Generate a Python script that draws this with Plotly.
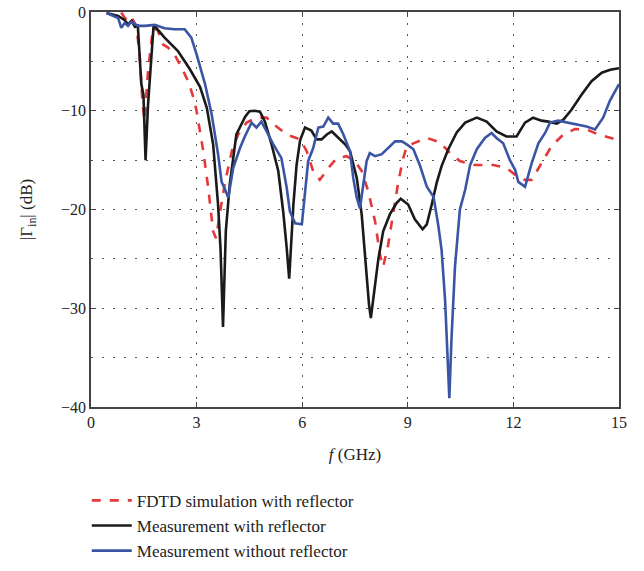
import plotly.graph_objects as go

# FDTD simulation with reflector
f_sim = [0.86, 0.96, 1.05, 1.14, 1.29, 1.38, 1.46, 1.52, 1.62, 1.76, 1.9, 2.05, 2.19, 2.37, 2.57, 2.76,
         2.94, 3.0, 3.19, 3.33, 3.47, 3.55, 3.67, 3.81, 4.0, 4.18, 4.42, 4.7, 4.99, 5.27, 5.56, 5.94,
         6.13, 6.31, 6.5, 6.74, 6.98, 7.26, 7.5, 7.69, 7.88, 8.07, 8.21, 8.3, 8.44, 8.59, 8.73, 8.87,
         8.97, 9.16, 9.54, 9.92, 10.2, 10.48, 10.86, 11.43, 11.81, 12.09, 12.33, 12.52, 12.8, 13.08,
         13.42, 13.75, 14.08, 14.41, 15.0]
db_sim = [-0.05, -0.6, -0.9, -0.5, -1.4, -4.3, -9.0, -11.0, -6.0, -1.6, -1.9, -3.3, -3.6, -4.3, -5.6, -7.0,
          -9.0, -10.05, -14.1, -17.8, -22.2, -22.9, -20.2, -17.2, -14.1, -12.4, -11.2, -10.7, -10.7, -11.6,
          -12.4, -12.9, -14.1, -16.1, -17.0, -15.8, -14.8, -14.6, -15.1, -16.1, -18.2, -21.2, -24.6, -25.8,
          -23.6, -20.2, -17.2, -14.8, -13.6, -13.3, -12.75, -13.2, -14.3, -15.1, -15.5, -15.5, -15.8, -16.6,
          -17.0, -17.0, -15.3, -13.6, -12.4, -11.85, -11.9, -12.4, -13.0]

# Measurement with reflector
f_ref = [0.44, 0.77, 0.95, 1.05, 1.15, 1.25, 1.33, 1.43, 1.49, 1.55, 1.62, 1.71, 1.78, 2.09, 2.47, 2.81,
         3.1, 3.29, 3.47, 3.61, 3.68, 3.75, 3.83, 3.94, 4.13, 4.38, 4.5, 4.65, 4.8, 4.94, 5.13, 5.32,
         5.46, 5.56, 5.63, 5.75, 5.84, 5.94, 6.08, 6.26, 6.41, 6.55, 6.7, 6.84, 6.98, 7.22, 7.36, 7.55,
         7.69, 7.8, 7.9, 7.95, 8.07, 8.16, 8.3, 8.49, 8.68, 8.8, 9.01, 9.2, 9.42, 9.54, 9.68, 9.82,
         9.96, 10.15, 10.39, 10.63, 10.96, 11.24, 11.52, 11.8, 12.09, 12.33, 12.56, 12.8, 12.99, 13.23,
         13.42, 13.65, 13.94, 14.22, 14.51, 14.75, 15.0]
db_ref = [-0.1, -0.4, -0.8, -1.25, -0.9, -1.5, -1.4, -7.3, -8.4, -15.0, -9.4, -4.3, -1.3, -2.6, -3.96, -5.8,
          -7.6, -9.7, -13.4, -19.5, -24.0, -31.9, -22.2, -17.5, -12.4, -10.6, -10.05, -10.0, -10.1, -11.1,
          -13.4, -16.1, -20.2, -23.9, -27.0, -19.5, -15.5, -13.0, -11.7, -12.0, -12.9, -12.9, -12.4, -12.1,
          -12.6, -13.4, -14.1, -16.8, -20.5, -25.6, -29.7, -31.0, -27.5, -25.1, -22.2, -20.5, -19.35, -18.9,
          -19.5, -21.0, -22.0, -21.5, -19.5, -17.3, -15.6, -13.9, -12.2, -11.2, -10.7, -11.1, -12.1, -12.6,
          -12.6, -11.2, -10.7, -11.0, -11.1, -11.3, -10.9, -9.9, -8.35, -7.0, -6.15, -5.85, -5.7]

# Measurement without reflector
f_noref = [0.44, 0.77, 0.86, 0.96, 1.05, 1.14, 1.33, 1.53, 1.81, 2.09, 2.37, 2.66, 2.85, 3.0, 3.24, 3.43,
           3.61, 3.71, 3.8, 3.9, 4.04, 4.23, 4.37, 4.56, 4.7, 4.84, 4.99, 5.18, 5.41, 5.56, 5.65, 5.8,
           5.99, 6.08, 6.17, 6.31, 6.46, 6.6, 6.74, 6.88, 7.02, 7.17, 7.36, 7.45, 7.55, 7.64, 7.73, 7.83,
           7.92, 8.07, 8.26, 8.44, 8.64, 8.83, 8.97, 9.16, 9.35, 9.54, 9.73, 9.87, 9.96, 10.06, 10.13,
           10.18, 10.24, 10.34, 10.48, 10.63, 10.77, 10.96, 11.19, 11.38, 11.52, 11.71, 11.9, 12.05,
           12.14, 12.33, 12.52, 12.71, 12.9, 13.04, 13.27, 13.56, 13.8, 14.08, 14.32, 14.55, 14.74, 15.0]
db_noref = [-0.1, -0.6, -1.6, -1.1, -1.4, -1.0, -1.4, -1.4, -1.3, -1.65, -1.75, -1.75, -2.6, -4.3, -7.3,
            -10.4, -14.4, -17.2, -17.9, -18.8, -15.8, -13.8, -12.6, -11.2, -11.7, -11.1, -12.1, -13.4,
            -14.8, -17.8, -20.2, -21.4, -21.5, -18.2, -15.1, -13.8, -11.7, -11.6, -10.7, -11.3, -11.3,
            -12.4, -14.1, -16.8, -18.8, -19.9, -17.8, -15.1, -14.3, -14.6, -14.4, -13.8, -13.1, -13.1,
            -13.4, -13.9, -15.6, -17.7, -18.7, -21.7, -24.1, -29.2, -35.3, -39.1, -33.2, -25.8, -20.0,
            -18.0, -15.5, -13.9, -12.75, -12.25, -12.75, -13.3, -15.0, -16.0, -17.2, -17.7, -15.3, -13.3,
            -12.25, -11.2, -11.0, -11.2, -11.4, -11.6, -11.9, -10.7, -9.0, -7.3]

x_ticks = [0, 3, 6, 9, 12, 15]
y_ticks = [-40, -30, -20, -10, 0]

FONT = "Liberation Serif"

fig = go.Figure()
fig.add_trace(go.Scatter(x=f_sim, y=db_sim, mode="lines", name="FDTD simulation with reflector",
                         line=dict(color="#E5383B", width=2.6, dash="dash")))
fig.add_trace(go.Scatter(x=f_ref, y=db_ref, mode="lines", name="Measurement with reflector",
                         line=dict(color="#1A1A1A", width=2.6)))
fig.add_trace(go.Scatter(x=f_noref, y=db_noref, mode="lines", name="Measurement without reflector",
                         line=dict(color="#3A55A4", width=2.6)))

grid = dict(showgrid=True, gridcolor="#555555", gridwidth=1, griddash="2px,9px")

fig.update_layout(
    width=644, height=571, autosize=False,
    margin=dict(l=91, r=25, t=12, b=164, autoexpand=False),
    plot_bgcolor="white", paper_bgcolor="white",
    font=dict(family=FONT, size=16, color="#222222"),
    showlegend=True,
    legend=dict(x=-0.008, xanchor="left", y=-0.192, yanchor="top", itemwidth=40,
                font=dict(family=FONT, size=17, color="#222222"),
                bgcolor="rgba(0,0,0,0)", tracegroupgap=0),
    xaxis=dict(range=[0, 15], tickvals=x_ticks, ticks="inside", ticklen=5, tickcolor="#444444",
               showline=True, linecolor="#444444", linewidth=1.5, mirror="ticks", zeroline=False,
               automargin=False, ticklabeloverflow="allow",
               title=dict(text="<i>f</i> (GHz)", font=dict(family=FONT, size=17), standoff=18),
               **grid),
    yaxis=dict(range=[-40, 0], tickvals=y_ticks, ticks="inside", ticklen=5, tickcolor="#444444",
               showline=True, linecolor="#444444", linewidth=1.5, mirror="ticks", zeroline=False,
               automargin=False, ticklabeloverflow="allow",
               title=dict(text="|Γ<sub>in</sub>| (dB)", font=dict(family=FONT, size=17), standoff=24),
               minor=dict(dtick=5, showgrid=True, gridcolor="#555555", gridwidth=1, griddash="2px,9px",
                          ticks=""),
               **grid),
)

fig.write_html("out.html", config={"displayModeBar": False},
               post_script="document.body.style.margin='0';")
